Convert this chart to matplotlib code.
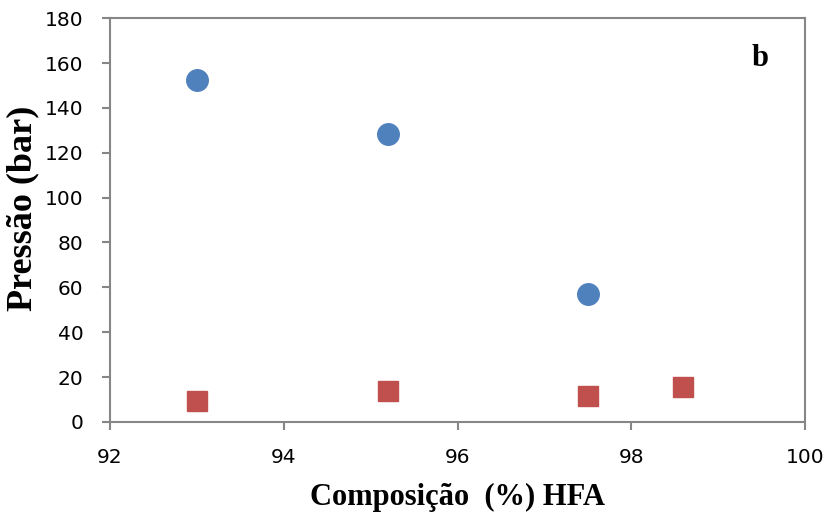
import matplotlib.pyplot as plt

# data
comp_a = [93.0, 95.2, 97.5]
pres_a = [152.5, 128.5, 57.0]
comp_b = [93.0, 95.2, 97.5, 98.6]
pres_b = [9.5, 14.0, 11.5, 15.5]

xticks = [92, 94, 96, 98, 100]
yticks = list(range(0, 181, 20))

fig = plt.figure(figsize=(8.3, 5.19), dpi=100)
ax = fig.add_axes([0.1325, 0.187, 0.8375, 0.778])

ax.plot(comp_a, pres_a, linestyle='none', marker='o', markersize=15.5,
        color='#4F81BD', markeredgecolor='#4F81BD')
ax.plot(comp_b, pres_b, linestyle='none', marker='s', markersize=14.5,
        color='#C0504D', markeredgecolor='#C0504D')

ax.set_xlim(92, 100)
ax.set_ylim(0, 180)
ax.set_xticks(xticks)
ax.set_yticks(yticks)

for s in ax.spines.values():
    s.set_color('#868686')
    s.set_linewidth(1.5)
ax.tick_params(direction='out', length=6, width=1.5, color='#868686',
               labelsize=14.5, labelcolor='black')
ax.tick_params(axis='x', pad=13)
ax.tick_params(axis='y', pad=13)

serif = ['Liberation Serif', 'DejaVu Serif']
ax.set_xlabel('Composição  (%) HFA', fontsize=22, fontweight='bold',
              family=serif, labelpad=11)
ax.set_ylabel('Pressão (bar)', fontsize=26, fontweight='bold',
              family=serif)
ax.yaxis.set_label_coords(-0.102, 0.53)
ax.text(0.935, 0.9, 'b', transform=ax.transAxes, fontsize=22,
        fontweight='bold', family=serif, ha='center', va='center')

fig.savefig('out.png', dpi=100)
